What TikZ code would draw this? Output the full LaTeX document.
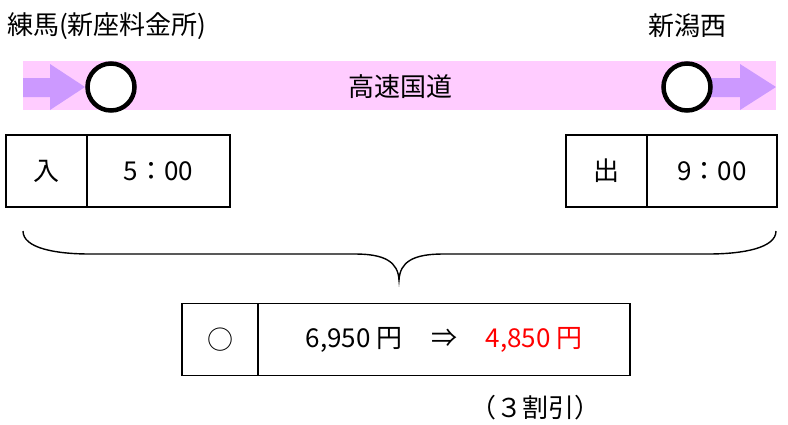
\documentclass[tikz,border=0pt]{standalone}
\usepackage{fontspec}
\setmainfont{Noto Sans CJK JP}
\definecolor{bandpink}{HTML}{FFCCFF}
\definecolor{arrowlav}{HTML}{CC99FF}
\begin{document}
\begin{tikzpicture}[x=1pt,y=-1pt,
  lbl/.style={inner sep=0pt, font=\fontsize{26}{30}\selectfont},
  cell/.style={draw, line width=1.6pt, minimum height=72pt, inner sep=0pt, font=\fontsize{26}{30}\selectfont},
  station/.style={circle, draw, line width=4.5pt, fill=white, minimum size=47pt, inner sep=0pt},
  flow/.style={fill=arrowlav}]
\useasboundingbox (0,0) rectangle (788,424);
% band
\fill[bandpink] (23,61) rectangle (776,110);
% arrows
\fill[flow] (23,78) -- (50,78) -- (50,64) -- (85,87) -- (50,110) -- (50,97) -- (23,97) -- cycle;
\fill[flow] (705,78) -- (740,78) -- (740,64) -- (776,87) -- (740,110) -- (740,97) -- (705,97) -- cycle;
\node[station] (s1) at (111,87) {};
\node[station] (s2) at (687,87) {};
\node[lbl] (road) at (400,87) {高速国道};
\node[lbl, anchor=west] (from) at (7,26) {練馬(新座料金所)};
\node[lbl] (to) at (687,26) {新潟西};
% boxes
\node[cell, minimum width=81pt] (in) at (46.5,171) {入};
\node[cell, minimum width=143pt] (intime) at (158.5,171) {5：00};
\node[cell, minimum width=81pt] (out) at (606.5,171) {出};
\node[cell, minimum width=130pt] (outtime) at (712,171) {9：00};
\node[cell, minimum width=76pt] (mark) at (220,339.5) {○};
\node[cell, minimum width=372pt] (fare) at (444,339.5) {6,950 円\hspace{1.1em}⇒\hspace{1.1em}\textcolor{red}{4,850 円}};
\node[lbl] (disc) at (535,408) {（３割引）};
% brace
\coordinate (bl) at (23,231);
\coordinate (br) at (776,231);
\coordinate (bt) at (399,280);
\draw[line width=1.4pt] (bl) .. controls (23,248) and (55,254) .. (90,254) -- (355,254)
  .. controls (385,254) and (398,262) .. (bt)
  .. controls (400,262) and (413,254) .. (443,254) -- (708,254)
  .. controls (743,254) and (776,248) .. (br);
\end{tikzpicture}
\end{document}
